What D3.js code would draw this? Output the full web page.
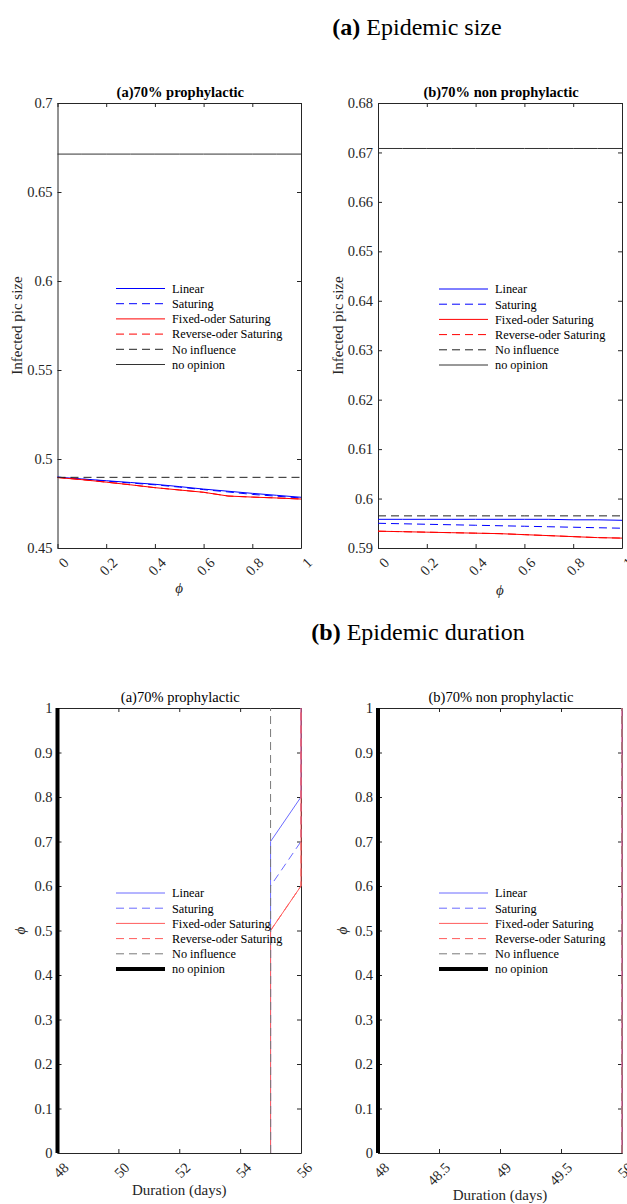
<!DOCTYPE html>
<html>
<head>
<meta charset="utf-8">
<script src="https://cdn.jsdelivr.net/npm/d3@7"></script>
<style>
  html, body { margin: 0; padding: 0; background: #fff; }
  svg text { font-family: "Liberation Serif", "Times New Roman", serif; fill: #262626; }
</style>
</head>
<body>
<svg id="chart" width="627" height="1204"></svg>
<script>
// ---------------- DATA ----------------
const seriesNames = ["Linear", "Saturing", "Fixed-oder Saturing", "Reverse-oder Saturing", "No influence", "no opinion"];
const phi = [0, 0.1, 0.2, 0.3, 0.4, 0.5, 0.6, 0.7, 0.8, 0.9, 1];

// (a) Epidemic size, 70% prophylactic
const sizeProLinear   = [0.4898, 0.4888, 0.4878, 0.4868, 0.4858, 0.4845, 0.4831, 0.4819, 0.4807, 0.4796, 0.4785];
const sizeProSaturing = [0.4898, 0.4887, 0.4876, 0.4865, 0.4855, 0.4842, 0.4828, 0.4815, 0.4801, 0.4791, 0.4781];
const sizeProFixed    = [0.4896, 0.4884, 0.4870, 0.4855, 0.4839, 0.4826, 0.4813, 0.4792, 0.4786, 0.4781, 0.4775];
const sizeProReverse  = [0.4896, 0.4884, 0.4870, 0.4855, 0.4839, 0.4826, 0.4813, 0.4792, 0.4786, 0.4781, 0.4775];
const sizeProNoInfl   = [0.4897, 0.4897, 0.4897, 0.4897, 0.4897, 0.4897, 0.4897, 0.4897, 0.4897, 0.4897, 0.4897];
const sizeProNoOpin   = [0.6713, 0.6713, 0.6713, 0.6713, 0.6713, 0.6713, 0.6713, 0.6713, 0.6713, 0.6713, 0.6713];

// (a) Epidemic size, 70% non prophylactic
const sizeNonLinear   = [0.5958, 0.5958, 0.5958, 0.5958, 0.5958, 0.5958, 0.5958, 0.5958, 0.5957, 0.5957, 0.5956];
const sizeNonSaturing = [0.5950, 0.5949, 0.5948, 0.5947, 0.5946, 0.5945, 0.5944, 0.5943, 0.5942, 0.5941, 0.5940];
const sizeNonFixed    = [0.5934, 0.5933, 0.5932, 0.5931, 0.5930, 0.5929, 0.5927, 0.5925, 0.5923, 0.5921, 0.5920];
const sizeNonReverse  = [0.5934, 0.5933, 0.5932, 0.5931, 0.5930, 0.5929, 0.5927, 0.5925, 0.5923, 0.5921, 0.5920];
const sizeNonNoInfl   = [0.5965, 0.5965, 0.5965, 0.5965, 0.5965, 0.5965, 0.5965, 0.5965, 0.5965, 0.5965, 0.5965];
const sizeNonNoOpin   = [0.6708, 0.6708, 0.6708, 0.6708, 0.6708, 0.6708, 0.6708, 0.6708, 0.6708, 0.6708, 0.6708];

// (b) Epidemic duration (days), 70% prophylactic
const durProLinear   = [55, 55, 55, 55, 55, 55, 55, 55, 56, 56, 56];
const durProSaturing = [55, 55, 55, 55, 55, 55, 55, 56, 56, 56, 56];
const durProFixed    = [55, 55, 55, 55, 55, 55, 56, 56, 56, 56, 56];
const durProReverse  = [55, 55, 55, 55, 55, 55, 56, 56, 56, 56, 56];
const durProNoInfl   = [55, 55, 55, 55, 55, 55, 55, 55, 55, 55, 55];
const durProNoOpin   = [48, 48, 48, 48, 48, 48, 48, 48, 48, 48, 48];

// (b) Epidemic duration (days), 70% non prophylactic
const durNonLinear   = [50, 50, 50, 50, 50, 50, 50, 50, 50, 50, 50];
const durNonSaturing = [50, 50, 50, 50, 50, 50, 50, 50, 50, 50, 50];
const durNonFixed    = [50, 50, 50, 50, 50, 50, 50, 50, 50, 50, 50];
const durNonReverse  = [50, 50, 50, 50, 50, 50, 50, 50, 50, 50, 50];
const durNonNoInfl   = [50, 50, 50, 50, 50, 50, 50, 50, 50, 50, 50];
const durNonNoOpin   = [48, 48, 48, 48, 48, 48, 48, 48, 48, 48, 48];

// tick labels
const phiTicks = [0, 0.2, 0.4, 0.6, 0.8, 1];
const sizeProTicks = [0.45, 0.5, 0.55, 0.6, 0.65, 0.7];
const sizeNonTicks = [0.59, 0.6, 0.61, 0.62, 0.63, 0.64, 0.65, 0.66, 0.67, 0.68];
const durProTicks = [48, 50, 52, 54, 56];
const durNonTicks = [48, 48.5, 49, 49.5, 50];
const phiTicksFine = [0, 0.1, 0.2, 0.3, 0.4, 0.5, 0.6, 0.7, 0.8, 0.9, 1];

// ---------------- DRAWING ----------------
const svg = d3.select("#chart");
const AX = "#262626";
const DASH = "8,5";

// section headings
function heading(cx, y, bold, rest) {
  const t = svg.append("text").attr("x", cx).attr("y", y).attr("text-anchor", "middle")
    .style("font-size", "24px").style("fill", "#000");
  t.append("tspan").style("font-weight", "bold").text(bold);
  t.append("tspan").text(" " + rest);
}
heading(417, 35, "(a)", "Epidemic size");
heading(418, 640, "(b)", "Epidemic duration");

const topStyles = [
  { color: "#0000ff", dash: null, width: 1 },
  { color: "#0000ff", dash: DASH, width: 1 },
  { color: "#ff0000", dash: null, width: 1 },
  { color: "#ff0000", dash: DASH, width: 1 },
  { color: "#222222", dash: DASH, width: 1 },
  { color: "#333333", dash: null, width: 1 }
];
const botStyles = [
  { color: "#6b6bff", dash: null, width: 1 },
  { color: "#6b6bff", dash: DASH, width: 1 },
  { color: "#ff5c5c", dash: null, width: 1 },
  { color: "#ff5c5c", dash: DASH, width: 1 },
  { color: "#7a7a7a", dash: DASH, width: 1 },
  { color: "#000000", dash: null, width: 4 }
];

function panel(o) {
  const x = d3.scaleLinear().domain(o.xDomain).range([o.left, o.right]);
  const y = d3.scaleLinear().domain(o.yDomain).range([o.bottom, o.top]);
  const g = svg.append("g");

  // box + inward ticks
  const fmt = d => String(d);
  const gx = g.append("g").attr("transform", `translate(0,${o.bottom})`)
    .call(d3.axisBottom(x).tickValues(o.xTicks).tickSize(-4).tickSizeOuter(0).tickFormat(fmt));
  gx.selectAll("text")
    .attr("x", null).attr("y", null).attr("dy", "0.35em")
    .attr("text-anchor", "end")
    .attr("transform", `translate(8,12) rotate(-45)`)
    .style("font-size", "14.5px");
  g.append("g").attr("transform", `translate(0,${o.top})`)
    .call(d3.axisTop(x).tickValues(o.xTicks).tickSize(-4).tickSizeOuter(0).tickFormat(""));
  const gy = g.append("g").attr("transform", `translate(${o.left},0)`)
    .call(d3.axisLeft(y).tickValues(o.yTicks).tickSize(-4).tickSizeOuter(0).tickFormat(fmt));
  gy.selectAll("text").attr("x", -5).style("font-size", "14.5px");
  g.append("g").attr("transform", `translate(${o.right},0)`)
    .call(d3.axisRight(y).tickValues(o.yTicks).tickSize(-4).tickSizeOuter(0).tickFormat(""));
  g.selectAll(".domain").attr("stroke", AX);
  g.selectAll(".tick line").attr("stroke", AX);
  g.selectAll(".tick text").style("fill", AX).style("font-family", "'Liberation Serif', 'Times New Roman', serif");

  // series lines (drawn above the axes box)
  const line = d3.line().x(d => x(d[0])).y(d => y(d[1]));
  o.series.forEach((s, i) => {
    const st = o.styles[i];
    const pts = s.xs.map((v, k) => [v, s.ys[k]]);
    g.append("path").datum(pts).attr("d", line)
      .attr("fill", "none").attr("stroke", st.color).attr("stroke-width", st.width)
      .attr("stroke-dasharray", st.dash);
  });

  // title
  g.append("text").attr("x", (o.left + o.right) / 2 + 1).attr("y", o.top - 6)
    .attr("text-anchor", "middle").style("font-size", "14.5px")
    .style("font-weight", o.titleBold ? "bold" : "normal").style("fill", "#000").text(o.title);

  // axis labels
  g.append("text").attr("x", (o.left + o.right) / 2).attr("y", o.xlabelY)
    .attr("text-anchor", "middle").style("font-size", "15px")
    .style("font-style", o.xlabelItalic ? "italic" : "normal").text(o.xlabel);
  g.append("text").attr("transform", `translate(${o.ylabelX},${(o.top + o.bottom) / 2}) rotate(-90)`)
    .attr("text-anchor", "middle").style("font-size", "15px")
    .style("font-style", o.ylabelItalic ? "italic" : "normal").text(o.ylabel);

  // legend (no box)
  const lg = g.append("g").attr("transform", `translate(${o.legendX},${o.legendY})`);
  seriesNames.forEach((n, i) => {
    const st = o.styles[i];
    const yy = i * 15.2;
    lg.append("line").attr("x1", 0).attr("x2", 49).attr("y1", yy).attr("y2", yy)
      .attr("stroke", st.color).attr("stroke-width", st.width).attr("stroke-dasharray", st.dash);
    lg.append("text").attr("x", 56).attr("y", yy).attr("dy", "0.35em")
      .style("font-size", "12.3px").style("fill", "#000").text(n);
  });
}

// (a) top-left
panel({
  left: 57.5, right: 301, top: 103, bottom: 548,
  xDomain: [0, 1], yDomain: [0.45, 0.7], xTicks: phiTicks, yTicks: sizeProTicks,
  title: "(a)70% prophylactic", titleBold: true,
  xlabel: "ϕ", xlabelItalic: true, xlabelY: 593,
  ylabel: "Infected pic size", ylabelX: 22,
  legendX: 116, legendY: 288.5, styles: topStyles,
  series: [
    { xs: phi, ys: sizeProLinear }, { xs: phi, ys: sizeProSaturing },
    { xs: phi, ys: sizeProFixed }, { xs: phi, ys: sizeProReverse },
    { xs: phi, ys: sizeProNoInfl }, { xs: phi, ys: sizeProNoOpin }
  ]
});

// (a) top-right
panel({
  left: 378, right: 622, top: 103, bottom: 548,
  xDomain: [0, 1], yDomain: [0.59, 0.68], xTicks: phiTicks, yTicks: sizeNonTicks,
  title: "(b)70% non prophylactic", titleBold: true,
  xlabel: "ϕ", xlabelItalic: true, xlabelY: 595,
  ylabel: "Infected pic size", ylabelX: 343,
  legendX: 439, legendY: 289, styles: topStyles,
  series: [
    { xs: phi, ys: sizeNonLinear }, { xs: phi, ys: sizeNonSaturing },
    { xs: phi, ys: sizeNonFixed }, { xs: phi, ys: sizeNonReverse },
    { xs: phi, ys: sizeNonNoInfl }, { xs: phi, ys: sizeNonNoOpin }
  ]
});

// (b) bottom-left
panel({
  left: 57.5, right: 301, top: 708, bottom: 1153,
  xDomain: [48, 56], yDomain: [0, 1], xTicks: durProTicks, yTicks: phiTicksFine,
  title: "(a)70% prophylactic", titleBold: false,
  xlabel: "Duration (days)", xlabelItalic: false, xlabelY: 1195,
  ylabel: "ϕ", ylabelItalic: true, ylabelX: 25,
  legendX: 116, legendY: 893, styles: botStyles,
  series: [
    { xs: durProLinear, ys: phi }, { xs: durProSaturing, ys: phi },
    { xs: durProFixed, ys: phi }, { xs: durProReverse, ys: phi },
    { xs: durProNoInfl, ys: phi }, { xs: durProNoOpin, ys: phi }
  ]
});

// (b) bottom-right
panel({
  left: 378, right: 622, top: 708, bottom: 1153,
  xDomain: [48, 50], yDomain: [0, 1], xTicks: durNonTicks, yTicks: phiTicksFine,
  title: "(b)70% non prophylactic", titleBold: false,
  xlabel: "Duration (days)", xlabelItalic: false, xlabelY: 1200,
  ylabel: "ϕ", ylabelItalic: true, ylabelX: 347,
  legendX: 439, legendY: 893, styles: botStyles,
  series: [
    { xs: durNonLinear, ys: phi }, { xs: durNonSaturing, ys: phi },
    { xs: durNonFixed, ys: phi }, { xs: durNonReverse, ys: phi },
    { xs: durNonNoInfl, ys: phi }, { xs: durNonNoOpin, ys: phi }
  ]
});
</script>
</body>
</html>
